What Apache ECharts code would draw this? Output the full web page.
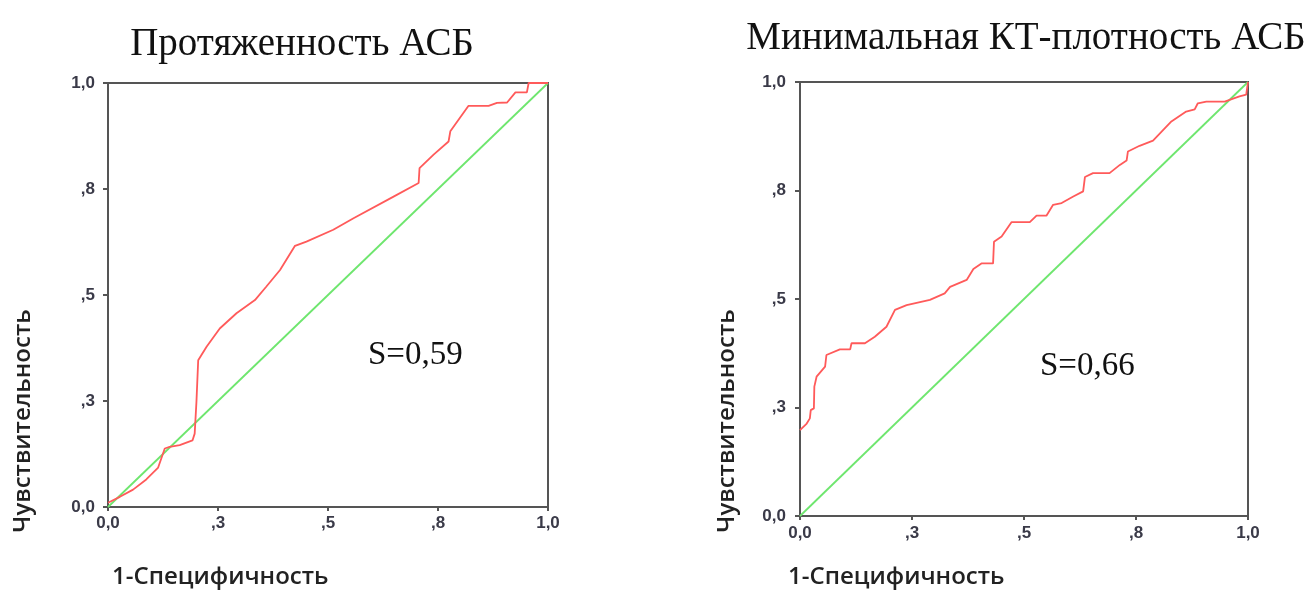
<!DOCTYPE html>
<html>
<head>
<meta charset="utf-8">
<script src="https://cdn.jsdelivr.net/npm/echarts@6/dist/echarts.min.js"></script>
<style>html,body{margin:0;padding:0;background:#fff}#c{width:1305px;height:592px}</style>
</head>
<body>
<div id="c"></div>
<script>
const titleLeft = 'Протяженность АСБ';
const titleRight = 'Минимальная КТ-плотность АСБ';
const xAxisTitle = '1-Специфичность';
const yAxisTitle = 'Чувствительность';
const aucLeft = 'S=0,59';
const aucRight = 'S=0,66';
const tickLabels = {0: '0,0', 0.25: ',3', 0.5: ',5', 0.75: ',8', 1: '1,0'};

// ROC curve, left: [1-specificity, sensitivity]
const rocLeft = [
  [0,0.01],[0.027,0.024],[0.057,0.041],[0.087,0.065],[0.114,0.093],[0.129,0.138],
  [0.140,0.142],[0.163,0.146],[0.192,0.157],[0.197,0.173],[0.201,0.248],[0.205,0.346],
  [0.224,0.378],[0.254,0.421],[0.292,0.457],[0.334,0.488],[0.360,0.520],[0.391,0.559],
  [0.425,0.616],[0.451,0.626],[0.512,0.654],[0.558,0.681],[0.649,0.732],[0.706,0.764],
  [0.708,0.799],[0.740,0.831],[0.774,0.862],[0.778,0.886],[0.819,0.946],[0.865,0.946],
  [0.884,0.953],[0.907,0.954],[0.926,0.978],[0.952,0.978],[0.956,1.0],[1,1]
];
// ROC curve, right
const rocRight = [
  [0,0.198],[0.015,0.213],[0.022,0.225],[0.024,0.244],[0.031,0.248],[0.032,0.298],
  [0.037,0.321],[0.056,0.344],[0.059,0.371],[0.089,0.384],[0.112,0.384],[0.115,0.398],
  [0.145,0.398],[0.167,0.413],[0.193,0.436],[0.212,0.475],[0.238,0.486],[0.290,0.498],
  [0.323,0.513],[0.335,0.528],[0.372,0.544],[0.387,0.569],[0.405,0.582],[0.431,0.582],
  [0.433,0.632],[0.450,0.644],[0.472,0.677],[0.513,0.677],[0.528,0.692],[0.550,0.692],
  [0.565,0.717],[0.584,0.721],[0.610,0.736],[0.632,0.748],[0.636,0.781],[0.654,0.790],
  [0.691,0.790],[0.714,0.809],[0.729,0.819],[0.732,0.840],[0.758,0.853],[0.788,0.865],
  [0.829,0.909],[0.862,0.932],[0.881,0.937],[0.888,0.951],[0.907,0.955],[0.948,0.955],
  [0.981,0.967],[0.996,0.971],[1,1]
];
// reference diagonal
const diagonal = [[0,0],[1,1]];

const chart = echarts.init(document.getElementById('c'));
const serif = '"Liberation Serif", "DejaVu Serif", serif';
const sans = '"Open Sans", "Liberation Sans", sans-serif';
const tickFont = {fontFamily: '"Liberation Sans", Arial, sans-serif', fontWeight: 'bold', fontSize: 17, color: '#3a3a48'};
const fmt = v => tickLabels[Math.round(v*100)/100] ?? '';

function xAx(i, margin){
  return {type:'value', gridIndex:i, min:0, max:1, interval:0.25,
    axisLine:{show:true, lineStyle:{color:'#555', width:2}},
    axisTick:{show:true, length:4, lineStyle:{color:'#555', width:2}},
    splitLine:{show:false},
    axisLabel:Object.assign({formatter:fmt, margin:margin}, tickFont)};
}
function yAx(i, margin){
  return {type:'value', gridIndex:i, min:0, max:1, interval:0.25,
    axisLine:{show:true, lineStyle:{color:'#555', width:2}},
    axisTick:{show:true, length:5, lineStyle:{color:'#555', width:2}},
    splitLine:{show:false},
    axisLabel:Object.assign({formatter:fmt, margin:margin}, tickFont)};
}

chart.setOption({
  animation:false,
  title:[
    {text:titleLeft, left:297, top:40, textAlign:'center', textVerticalAlign:'middle',
      textStyle:{fontFamily:serif, fontWeight:'normal', fontSize:39, color:'#111'}},
    {text:titleRight, left:1021, top:34, textAlign:'center', textVerticalAlign:'middle',
      textStyle:{fontFamily:serif, fontWeight:'normal', fontSize:39, color:'#111'}}
  ],
  grid:[
    {left:108, top:83, width:440, height:424, show:true, borderColor:'#555', borderWidth:2, backgroundColor:'#fff'},
    {left:800, top:82, width:448, height:434, show:true, borderColor:'#555', borderWidth:2, backgroundColor:'#fff'}
  ],
  xAxis:[xAx(0, 8), xAx(1, 9)],
  yAxis:[yAx(0, 13), yAx(1, 14)],
  series:[
    {type:'line', xAxisIndex:0, yAxisIndex:0, data:diagonal, showSymbol:false, lineStyle:{color:'#6ee66e', width:1.8}},
    {type:'line', xAxisIndex:0, yAxisIndex:0, data:rocLeft, showSymbol:false, lineStyle:{color:'#ff5a5a', width:1.8}},
    {type:'line', xAxisIndex:1, yAxisIndex:1, data:diagonal, showSymbol:false, lineStyle:{color:'#6ee66e', width:1.8}},
    {type:'line', xAxisIndex:1, yAxisIndex:1, data:rocRight, showSymbol:false, lineStyle:{color:'#ff5a5a', width:1.8}}
  ],
  graphic:[
    {type:'text', left:368, top:339, style:{text:aucLeft, font:'33px ' + serif, fill:'#111'}},
    {type:'text', left:1040, top:350, style:{text:aucRight, font:'33px ' + serif, fill:'#111'}},
    {type:'text', x:112, y:577, style:{text:xAxisTitle, font:'600 24px ' + sans, fill:'#222', verticalAlign:'middle'}},
    {type:'text', x:788, y:577, style:{text:xAxisTitle, font:'600 24px ' + sans, fill:'#222', verticalAlign:'middle'}},
    {type:'text', x:23, y:421, rotation:Math.PI/2, style:{text:yAxisTitle, font:'600 24px ' + sans, fill:'#222', align:'center', verticalAlign:'middle'}},
    {type:'text', x:727, y:421, rotation:Math.PI/2, style:{text:yAxisTitle, font:'600 24px ' + sans, fill:'#222', align:'center', verticalAlign:'middle'}}
  ]
});
</script>
</body>
</html>
